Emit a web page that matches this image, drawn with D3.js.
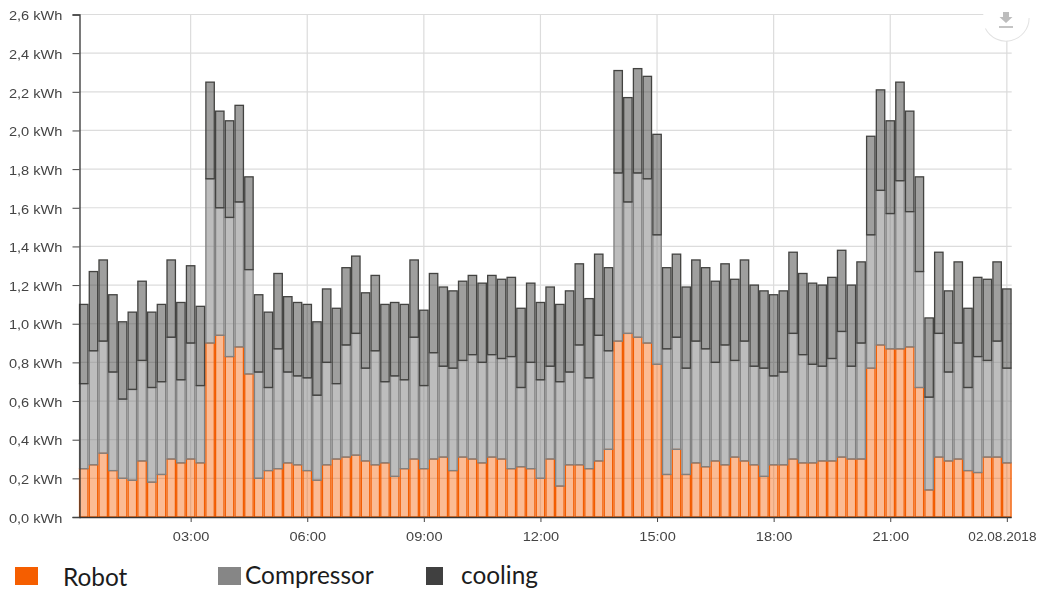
<!DOCTYPE html>
<html>
<head>
<meta charset="utf-8">
<script src="https://cdn.jsdelivr.net/npm/d3@7"></script>
<style>
    html, body { margin: 0; padding: 0; background: #fff; overflow: hidden; }
    svg { display: block; }
    .blurred { filter: blur(0.55px); }
</style>
</head>
<body>
<div id="chart"></div>
<script>
// readings, kWh per 15 minutes
const robot = [.25,.27,.33,.24,.20,.19,.29,.18,.22,.30,.28,.30,.28,.90,.94,.83,.88,.74,.20,.24,.25,.28,.27,.24,
    .19,.27,.30,.31,.32,.29,.27,.28,.21,.25,.30,.25,.30,.31,.24,.31,.30,.28,.31,.30,.25,.26,.25,.20,
    .30,.16,.27,.27,.25,.29,.35,.91,.95,.93,.90,.79,.22,.35,.22,.28,.26,.29,.27,.31,.29,.27,.21,.27,
    .27,.30,.28,.28,.29,.29,.31,.30,.30,.77,.89,.87,.87,.88,.67,.14,.31,.29,.30,.24,.23,.31,.31,.28];
const compressor = [.44,.59,.58,.51,.41,.47,.52,.49,.48,.63,.43,.60,.40,.85,.66,.72,.75,.54,.55,.43,.62,.47,.46,.48,
    .44,.53,.39,.58,.63,.48,.59,.42,.52,.46,.63,.43,.55,.47,.53,.50,.54,.52,.53,.52,.58,.41,.55,.51,
    .48,.54,.48,.62,.47,.65,.51,.87,.68,.85,.85,.67,.65,.58,.55,.63,.61,.51,.62,.50,.62,.51,.56,.46,
    .48,.65,.56,.51,.49,.53,.65,.48,.60,.69,.80,.70,.87,.70,.60,.48,.64,.46,.60,.43,.60,.50,.60,.49];
const cooling = [.41,.41,.42,.40,.40,.40,.41,.39,.40,.40,.40,.40,.41,.50,.50,.50,.50,.48,.40,.39,.39,.39,.38,.38,
    .38,.38,.39,.40,.40,.39,.39,.40,.38,.39,.40,.39,.41,.41,.40,.41,.41,.41,.41,.41,.41,.41,.41,.40,
    .41,.40,.42,.42,.41,.42,.43,.53,.54,.54,.53,.52,.42,.43,.42,.42,.42,.42,.42,.42,.42,.42,.40,.42,
    .42,.42,.42,.42,.42,.42,.42,.42,.42,.51,.52,.48,.51,.52,.49,.41,.42,.42,.42,.41,.41,.42,.41,.41];
const seriesNames = ["robot", "compressor", "cooling"];
const yTicks = [0, .2, .4, .6, .8, 1, 1.2, 1.4, 1.6, 1.8, 2, 2.2, 2.4, 2.6];

const W = 1037, H = 591;
const plotLeft = 79.5, plotRight = 1011.7, plotTop = 14.5, plotBottom = 517;
const stepMin = 15;
const textStretch = 1.17; // the labels are wider than the font in the picture

const fills = { robot: "#f76a16", compressor: "#8a8a8a", cooling: "#3f403d" };
const fillOp = { robot: 0.46, compressor: 0.56, cooling: 0.5 };
const strokes = { robot: "#f25c00", compressor: "#808080", cooling: "#434341" };

const day = new Date(2018, 7, 1);
const minutes = m => new Date(day.getTime() + m * 60000);

// every bar is centred on the end of its 15 minutes
const rows = robot.map((d, i) => ({
    time: minutes((i + 1) * stepMin),
    robot: d,
    compressor: compressor[i],
    cooling: cooling[i]
}));

const x = d3.scaleTime()
    .domain([minutes(stepMin / 2), minutes(24 * 60 + stepMin / 2)])
    .range([78.9, plotRight]);
const y = d3.scaleLinear().domain([0, 2.6]).range([plotBottom, plotTop]);

const svg = d3.select("#chart").append("svg").attr("width", W).attr("height", H);
const chart = svg.append("g").attr("class", "blurred");

// grid
const hourTicks = d3.timeHour.every(3).range(minutes(60), minutes(24 * 60 + 1));
chart.append("g").selectAll("line").data(yTicks.slice(1)).enter().append("line")
    .attr("x1", plotLeft).attr("x2", plotRight)
    .attr("y1", d => y(d)).attr("y2", d => y(d))
    .attr("stroke", "#dcdcdc").attr("stroke-width", 1.2);
chart.append("g").selectAll("line").data(hourTicks).enter().append("line")
    .attr("x1", d => x(d)).attr("x2", d => x(d))
    .attr("y1", plotTop).attr("y2", plotBottom)
    .attr("stroke", "#dcdcdc").attr("stroke-width", 1.2);

// stacked bars
const stack = d3.stack().keys(seriesNames)(rows);
const barW = x(minutes(stepMin * 2)) - x(minutes(stepMin));
chart.selectAll(".layer")
    .data(stack)
    .enter()
    .append("g")
    .attr("class", "layer")
    .selectAll("rect")
    .data(s => s.map(d => ({ key: s.key, v: d })))
    .enter()
    .append("rect")
    .attr("x", d => x(d.v.data.time) - barW / 2 + 0.65)
    .attr("width", barW - 1.3)
    .attr("y", d => y(d.v[1]))
    .attr("height", d => y(d.v[0]) - y(d.v[1]))
    .attr("fill", d => fills[d.key])
    .attr("fill-opacity", d => fillOp[d.key])
    .attr("stroke", d => strokes[d.key])
    .attr("stroke-width", 1.3);

// axes
const xAxis = d3.axisBottom(x)
    .tickValues(hourTicks)
    .tickSize(5)
    .tickPadding(10)
    .tickFormat(d => d.getHours() === 0 ? "02.08.2018" : d3.timeFormat("%H:%M")(d));
const gx = chart.append("g").attr("transform", `translate(0,${plotBottom})`).call(xAxis);
gx.select(".domain").attr("d", `M${plotLeft},0.5H${plotRight}`);
const yAxis = d3.axisLeft(y)
    .tickValues(yTicks)
    .tickSize(7)
    .tickFormat(d => d3.format(".1f")(d).replace(".", ",") + " kWh");
const gy = chart.append("g").attr("transform", `translate(${plotLeft},0)`).call(yAxis);

[gx, gy].forEach(g => {
    g.select(".domain").attr("stroke", "#333").attr("stroke-width", 1.3);
    g.selectAll(".tick line").attr("stroke", "#444").attr("stroke-width", 1);
    g.selectAll("text")
        .attr("font-family", "'Liberation Sans', Arial, sans-serif")
        .attr("font-size", 12.5)
        .attr("fill", "#444");
});
gx.selectAll("text").attr("transform", `scale(${textStretch},1)`);
gy.selectAll("text")
    .attr("x", -17 / textStretch)
    .attr("dy", "0.42em")
    .attr("transform", `scale(${textStretch},1)`);

// the last label runs right up to the page edge in the picture
gx.selectAll(".tick:last-of-type text")
    .attr("text-anchor", "end")
    .attr("x", (1036 - x(minutes(24 * 60))) / 1.09)
    .attr("transform", "scale(1.09,1)");

// export button in the corner, only its lower edge shows
const btn = chart.append("g").attr("transform", "translate(1006,18)");
btn.append("circle").attr("r", 23).attr("fill", "#fff");
btn.append("path")
    .attr("d", d3.arc().innerRadius(22.6).outerRadius(23.6).startAngle(Math.PI * 0.5).endAngle(Math.PI * 1.35)())
    .attr("fill", "#e2e2e2");
btn.append("path").attr("d", "M-3,-6H3V-1H6.5L0,5L-6.5,-1H-3Z").attr("fill", "#bdbdbd");
btn.append("line").attr("x1", -7).attr("x2", 7).attr("y1", 9).attr("y2", 9)
    .attr("stroke", "#b5b5b5").attr("stroke-width", 1.6);

// legend
const legendItems = [
    { name: "Robot", sx: 15, sw: 23, tx: 63, ty: 586, color: "#f55e00" },
    { name: "Compressor", sx: 218, sw: 23, tx: 245, ty: 584, color: "#868686" },
    { name: "cooling", sx: 426, sw: 17, tx: 461, ty: 584, color: "#404040" }
];
const legend = svg.append("g");
legend.selectAll("rect").data(legendItems).enter().append("rect")
    .attr("x", d => d.sx).attr("y", 567)
    .attr("width", d => d.sw).attr("height", 18)
    .attr("fill", d => d.color);
legend.selectAll("text").data(legendItems).enter().append("text")
    .attr("x", d => d.tx).attr("y", d => d.ty)
    .attr("font-family", "Lato, sans-serif")
    .attr("font-size", 24.4)
    .attr("fill", "#1c1c1c")
    .text(d => d.name);
</script>
</body>
</html>
